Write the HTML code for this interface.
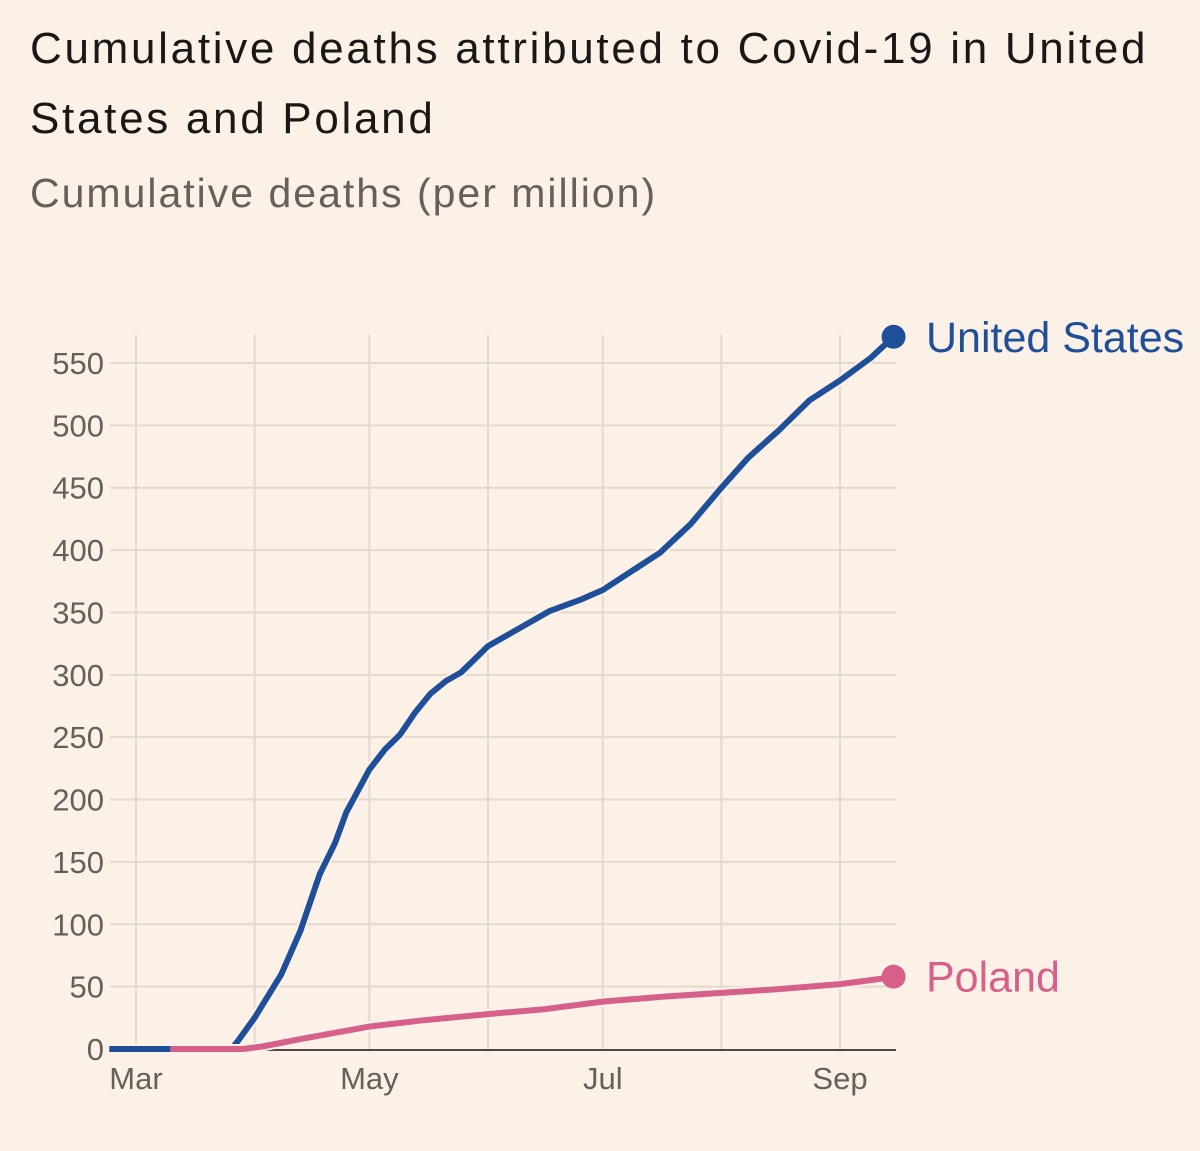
<!DOCTYPE html>
<html><head><meta charset="utf-8"><style>
html,body{margin:0;padding:0;background:#fbf1e7;width:1200px;height:1151px;overflow:hidden}
body{font-family:"Liberation Sans",sans-serif}
#title{position:absolute;left:30px;top:14px;font-size:44px;line-height:70px;color:#1a1817;width:1170px;white-space:nowrap;letter-spacing:2.7px}
#subtitle{position:absolute;left:30px;top:170px;font-size:41px;color:#66605c;letter-spacing:2px}
svg{position:absolute;left:0;top:0}
</style></head><body>
<div id="title">Cumulative deaths attributed to Covid-19 in United<br>States and Poland</div>
<div id="subtitle">Cumulative deaths (per million)</div>
<svg id="chart" width="1200" height="1151"></svg>
<script>
// data: day offsets from Mar 1 2020
const usDays = [-7,20,25,27,31,34,38,43,48,52,55,61,65,69,73,77,81,85,92,100,108,116,122,129,137,145,153,160,168,176,184,192,198];
const usVals = [0,0,0,8,25,40,60,95,140,165,190,224,240,252,270,285,295,302,323,337,351,360,368,382,398,421,450,474,496,520,536,554,571];
const plDays = [9,28,33,43,52,61,75,92,107,122,138,153,168,184,194,198];
const plVals = [0,0,2,8,13,18,23,28,32,38,42,45,48,52,56,58];
const yTicks = [0,50,100,150,200,250,300,350,400,450,500,550];
const monthDays = [0,31,61,92,122,153,184];
const monthLabels = ["Mar","","May","","Jul","","Sep"];
const ns="http://www.w3.org/2000/svg";
const svg=document.getElementById('chart');
const x=d=>136+d*(840-136)/184;
const y=v=>1049-v*(1049-363)/550;
const X0=110,X1=896;
function mk(t,a){const e=document.createElementNS(ns,t);for(const k in a)e.setAttribute(k,a[k]);svg.appendChild(e);return e;}
yTicks.forEach(v=>{
  if(v>0){const g=mk('line',{x1:X0,x2:X1,y1:y(v),y2:y(v),stroke:'#e3d9cd','stroke-width':2});
  
  }
  const t=mk('text',{x:104,y:y(v)+11,'text-anchor':'end','font-size':31,fill:'#66605c','font-family':'Liberation Sans, sans-serif'});
  t.textContent=v;
  
  
});
monthDays.forEach((d,i)=>{
  const g=mk('line',{x1:x(d),x2:x(d),y1:335,y2:1049,stroke:'#e3d9cd','stroke-width':2});
  
  
  if(monthLabels[i]){
    const t=mk('text',{x:x(d),y:1089,'text-anchor':'middle','font-size':31,fill:'#66605c','font-family':'Liberation Sans, sans-serif'});
    t.textContent=monthLabels[i];
    
    
  }
});
const ax=mk('line',{x1:X0,x2:X1,y1:1050,y2:1050,stroke:'#4d4845','stroke-width':2});


function series(days,vals,col,name,label){
  const pts=days.map((d,i)=>x(d)+','+y(vals[i])).join(' ');
  const halo=mk('polyline',{points:pts,fill:'none',stroke:'#fbf1e7','stroke-width':10,'stroke-linejoin':'round'});
  
  
  const l=mk('polyline',{points:pts,fill:'none',stroke:col,'stroke-width':6,'stroke-linejoin':'round'});
  
  
  const n=days.length-1;
  const c=mk('circle',{cx:x(days[n]),cy:y(vals[n]),r:12,fill:col});
  
  
  const t=mk('text',{x:926,y:y(vals[n])+15,'font-size':43,fill:col,'font-family':'Liberation Sans, sans-serif'});
  t.textContent=label;
  
  
}
series(usDays,usVals,'#1f4f98','united-states','United States');
series(plDays,plVals,'#d6608a','poland','Poland');
</script>
</body></html>
